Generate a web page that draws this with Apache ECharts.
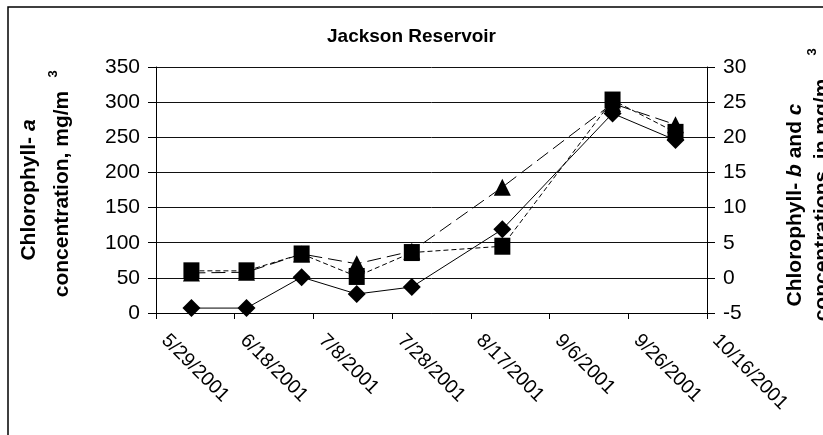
<!DOCTYPE html>
<html>
<head>
<meta charset="utf-8">
<script src="https://cdn.jsdelivr.net/npm/echarts@6/dist/echarts.min.js"></script>
<style>
  html, body { margin: 0; padding: 0; background: #fff; }
  #chart { width: 823px; height: 435px; }
</style>
</head>
<body>
<div id="chart"></div>
<script>
// Sampling dates at Jackson Reservoir, 2001
const sampleDates = ['2001-06-07', '2001-06-21', '2001-07-05', '2001-07-19',
                     '2001-08-02', '2001-08-25', '2001-09-22', '2001-10-08'];
// Chlorophyll-a, mg/m3 (left axis, diamonds)
const chlA = [7, 7, 51, 27, 37, 119, 284, 246];
// Chlorophyll-b, mg/m3 (right axis, squares)
const chlB = [1.0, 1.0, 3.4, 0.2, 3.6, 4.5, 25.3, 20.7];
// Chlorophyll-c, mg/m3 (right axis, triangles)
const chlC = [0.7, 0.8, 3.4, 2.0, 3.8, 12.9, 24.8, 21.8];

// Date axis: first and last tick, tick step in days
const dateAxisStart = '2001-05-29';
const dateAxisEnd = '2001-10-16';
const dateTickDays = 20;
// Value axes
const leftAxisTicks = { min: 0, max: 350, step: 50 };
const rightAxisTicks = { min: -5, max: 30, step: 5 };

const DAY = 86400000;
function toUTC(s) {
  const p = s.split('-').map(Number);
  return Date.UTC(p[0], p[1] - 1, p[2]);
}
const base = toUTC(dateAxisStart);
const dayOf = s => (toUTC(s) - base) / DAY;
const pairs = vals => sampleDates.map((d, i) => [dayOf(d), vals[i]]);
function dateLabel(v) {
  const d = new Date(base + v * DAY);
  return (d.getUTCMonth() + 1) + '/' + d.getUTCDate() + '/' + d.getUTCFullYear();
}

const FONT = '"Liberation Sans", Arial, sans-serif';
const black = '#000';
const NAME_SIZE = 21;

const chart = echarts.init(document.getElementById('chart'), null, { renderer: 'canvas' });

const valueAxisCommon = {
  type: 'value',
  axisLine: { show: true, lineStyle: { color: black, width: 1 } },
  axisTick: { show: true, inside: false, length: 8, lineStyle: { color: black } },
  axisLabel: { color: black, fontFamily: FONT, fontSize: 21, margin: 16 }
};

function boldRich(size) {
  return {
    b: { fontFamily: FONT, fontSize: size, fontWeight: 'bold', fill: black },
    i: { fontFamily: FONT, fontSize: size, fontWeight: 'bold', fontStyle: 'italic', fill: black }
  };
}

chart.setOption({
  animation: false,
  backgroundColor: '#fff',
  title: {
    text: 'Jackson Reservoir',
    left: 'center',
    top: 22,
    textStyle: { fontFamily: FONT, fontSize: 19, fontWeight: 'bold', color: black }
  },
  grid: { left: 156, right: 116, top: 67, bottom: 122, containLabel: false },
  xAxis: {
    type: 'value',
    min: 0,
    max: dayOf(dateAxisEnd),
    interval: dateTickDays,
    axisLine: { show: true, onZero: false, lineStyle: { color: black, width: 1 } },
    axisTick: { show: true, length: 6, lineStyle: { color: black } },
    splitLine: { show: false },
    axisLabel: {
      color: black, fontFamily: FONT, fontSize: 19.5, rotate: -45, margin: 16,
      padding: [0, 0, 0, 12],
      formatter: dateLabel
    }
  },
  yAxis: [
    Object.assign({}, valueAxisCommon, {
      position: 'left',
      min: leftAxisTicks.min, max: leftAxisTicks.max, interval: leftAxisTicks.step,
      splitLine: { show: true, lineStyle: { color: '#111', width: 1 } }
    }),
    Object.assign({}, valueAxisCommon, {
      position: 'right',
      min: rightAxisTicks.min, max: rightAxisTicks.max, interval: rightAxisTicks.step,
      splitLine: { show: false }
    })
  ],
  series: [
    {
      name: 'Chlorophyll-c',
      type: 'line',
      yAxisIndex: 1,
      data: pairs(chlC),
      symbol: 'triangle',
      symbolSize: [17, 17],
      lineStyle: { color: black, width: 1, type: [14, 6] },
      itemStyle: { color: black }
    },
    {
      name: 'Chlorophyll-a',
      type: 'line',
      yAxisIndex: 0,
      data: pairs(chlA),
      symbol: 'diamond',
      symbolSize: [18, 18],
      lineStyle: { color: black, width: 1 },
      itemStyle: { color: black }
    },
    {
      name: 'Chlorophyll-b',
      type: 'line',
      yAxisIndex: 1,
      data: pairs(chlB),
      symbol: 'rect',
      symbolSize: [16, 17],
      lineStyle: { color: black, width: 1, type: [5, 3] },
      itemStyle: { color: black }
    }
  ],
  graphic: [
    // chart frame
    {
      type: 'rect', silent: true,
      shape: { x: 8, y: 7, width: 840, height: 460 },
      style: { fill: 'none', stroke: black, lineWidth: 1.5 }
    },
    // left axis name
    {
      type: 'text', x: 29, y: 190, rotation: Math.PI / 2,
      style: {
        text: '{b|Chlorophyll- }{i|a}',
        align: 'center', verticalAlign: 'middle',
        rich: boldRich(NAME_SIZE)
      }
    },
    {
      type: 'text', x: 62, y: 194, rotation: Math.PI / 2,
      style: {
        text: 'concentration, mg/m',
        align: 'center', verticalAlign: 'middle',
        fontFamily: FONT, fontSize: NAME_SIZE, fontWeight: 'bold', fill: black
      }
    },
    {
      type: 'text', x: 53, y: 74, rotation: Math.PI / 2,
      style: {
        text: '3', align: 'center', verticalAlign: 'middle',
        fontFamily: FONT, fontSize: 13, fontWeight: 'bold', fill: black
      }
    },
    // right axis name
    {
      type: 'text', x: 795, y: 205, rotation: Math.PI / 2,
      style: {
        text: '{b|Chlorophyll- }{i|b}{b| and }{i|c}',
        align: 'center', verticalAlign: 'middle',
        rich: boldRich(NAME_SIZE)
      }
    },
    {
      type: 'text', x: 822, y: 200, rotation: Math.PI / 2,
      style: {
        text: 'concentrations, in mg/m',
        align: 'center', verticalAlign: 'middle',
        fontFamily: FONT, fontSize: NAME_SIZE, fontWeight: 'bold', fill: black
      }
    },
    {
      type: 'text', x: 812, y: 52, rotation: Math.PI / 2,
      style: {
        text: '3', align: 'center', verticalAlign: 'middle',
        fontFamily: FONT, fontSize: 13, fontWeight: 'bold', fill: black
      }
    }
  ]
});
</script>
</body>
</html>
